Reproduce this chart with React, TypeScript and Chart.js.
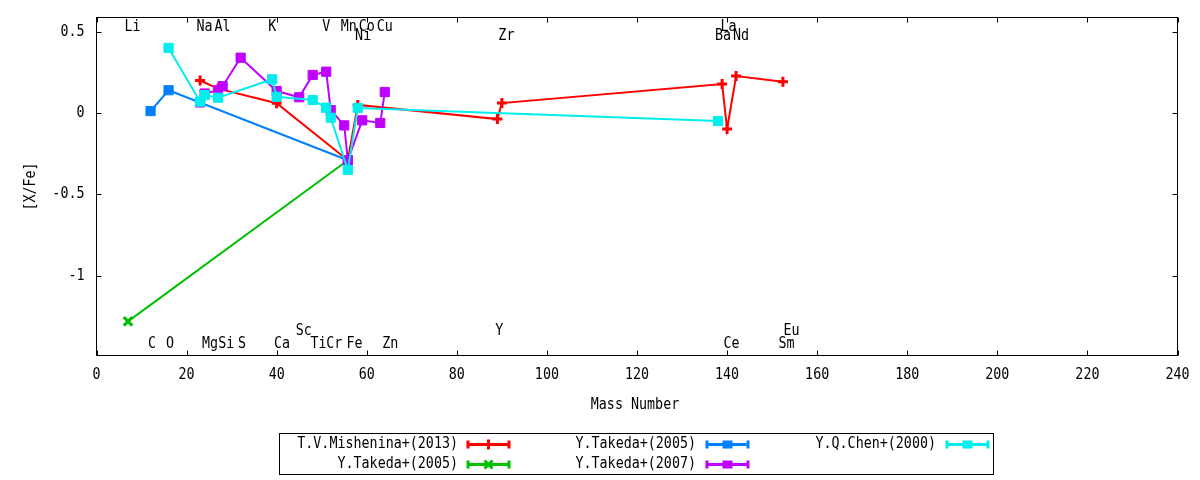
import React, { useEffect, useRef } from "react";
import { Chart, registerables, Plugin } from "chart.js";

Chart.register(...registerables);

// element symbols written on the plot at (mass number, [X/Fe])
const elementNames = ["Li", "Na", "Al", "K", "V", "Mn", "Co", "Cu", "La", "Ni", "Zr", "Ba", "Nd", "Sc", "Y", "Eu", "C", "O", "Mg", "Si", "S", "Ca", "Ti", "Cr", "Fe", "Zn", "Ce", "Sm"];
const elementMass = [8, 24, 28, 39, 51, 56, 60, 64, 140.3, 59.2, 91, 139.1, 143.1, 46, 89.4, 154.3, 12.3, 16.3, 25.2, 28.8, 32.3, 41.2, 49.3, 52.8, 57.3, 65.2, 141, 153.2];
const elementLevel = [0.53, 0.53, 0.53, 0.53, 0.53, 0.53, 0.53, 0.53, 0.53, 0.47, 0.47, 0.47, 0.47, -1.34, -1.34, -1.34, -1.423, -1.423, -1.423, -1.423, -1.423, -1.423, -1.423, -1.423, -1.423, -1.423, -1.423, -1.423];

// T.V.Mishenina+(2013)
const mishMass = [23, 27, 40, 55.8, 58, 89, 90, 138.9, 140, 142, 152.4];
const mishValue = [0.2, 0.15, 0.06, -0.29, 0.05, -0.037, 0.061, 0.178, -0.098, 0.227, 0.192];

// Y.Takeda+(2005) Li
const takedaLiMass = [7, 55.8];
const takedaLiValue = [-1.28, -0.29];

// Y.Takeda+(2005) C, O
const takedaCOMass = [12, 16, 55.8];
const takedaCOValue = [0.012, 0.14, -0.29];

// Y.Takeda+(2007)
const takeda07Mass = [23, 24, 27, 28, 32, 40, 45, 48, 51, 52, 55, 55.8, 59, 63, 64];
const takeda07Value = [0.065, 0.12, 0.14, 0.165, 0.34, 0.135, 0.097, 0.234, 0.254, 0.018, -0.076, -0.29, -0.045, -0.061, 0.129];

// Y.Q.Chen+(2000)
const chenMass = [16, 23, 24, 27, 39, 40, 48, 51, 52, 55.8, 58, 138];
const chenValue = [0.4, 0.07, 0.11, 0.094, 0.207, 0.1, 0.08, 0.033, -0.029, -0.35, 0.031, -0.049];

const xAxisTitle = "Mass Number";
const yAxisTitle = "[X/Fe]";

const FONT = "15px 'DejaVu Sans Mono', monospace";
const SQUEEZE = 0.89; // gnuplot's font is narrower than DejaVu Sans Mono

function toPoints(xs: number[], ys: number[]) {
  return xs.map((x, i) => ({ x, y: ys[i] }));
}

function tickText(v: number) {
  return String(Math.round(v * 10) / 10);
}

// draw squeezed text, (x, y) = anchor point
function text(ctx: CanvasRenderingContext2D, s: string, x: number, y: number, align: CanvasTextAlign, rot = 0) {
  ctx.save();
  ctx.translate(x, y);
  if (rot) ctx.rotate(rot);
  ctx.scale(SQUEEZE, 1);
  ctx.font = FONT;
  ctx.fillStyle = "#000";
  ctx.textAlign = align;
  ctx.textBaseline = "middle";
  ctx.fillText(s, 0, 0);
  ctx.restore();
}

function drawMarker(ctx: CanvasRenderingContext2D, style: string, x: number, y: number, color: string) {
  ctx.save();
  ctx.strokeStyle = color;
  ctx.fillStyle = color;
  ctx.lineWidth = 3;
  ctx.beginPath();
  if (style === "cross") {
    ctx.moveTo(x - 5, y);
    ctx.lineTo(x + 5, y);
    ctx.moveTo(x, y - 5);
    ctx.lineTo(x, y + 5);
    ctx.stroke();
  } else if (style === "crossRot") {
    ctx.moveTo(x - 4, y - 4);
    ctx.lineTo(x + 4, y + 4);
    ctx.moveTo(x + 4, y - 4);
    ctx.lineTo(x - 4, y + 4);
    ctx.stroke();
  } else {
    ctx.fillRect(x - 5, y - 4, 10, 8);
  }
  ctx.restore();
}

// border box, inward ticks on all four sides, tick labels, titles, element names
const framePlugin: Plugin = {
  id: "frame",
  afterDatasetsDraw(chart) {
    const { ctx, chartArea: a, scales } = chart;
    ctx.save();
    ctx.strokeStyle = "#000";
    ctx.lineWidth = 1;
    ctx.strokeRect(a.left, a.top, a.right - a.left, a.bottom - a.top);
    ctx.beginPath();
    scales.x.ticks.forEach((t) => {
      const px = Math.round(scales.x.getPixelForValue(t.value)) + 0.5;
      ctx.moveTo(px, a.bottom);
      ctx.lineTo(px, a.bottom - 5);
      ctx.moveTo(px, a.top);
      ctx.lineTo(px, a.top + 5);
    });
    scales.y.ticks.forEach((t) => {
      const py = Math.round(scales.y.getPixelForValue(t.value)) + 0.5;
      ctx.moveTo(a.left, py);
      ctx.lineTo(a.left + 5, py);
      ctx.moveTo(a.right, py);
      ctx.lineTo(a.right - 5, py);
    });
    ctx.stroke();
    ctx.restore();

    scales.x.ticks.forEach((t) => {
      text(ctx, tickText(t.value), scales.x.getPixelForValue(t.value), a.bottom + 20, "center");
    });
    scales.y.ticks.forEach((t) => {
      text(ctx, tickText(t.value), a.left - 12, scales.y.getPixelForValue(t.value), "right");
    });
    text(ctx, xAxisTitle, (a.left + a.right) / 2 - 2, 405, "center");
    text(ctx, yAxisTitle, 31, (a.top + a.bottom) / 2, "center", -Math.PI / 2);

    elementNames.forEach((name, i) => {
      text(ctx, name, scales.x.getPixelForValue(elementMass[i]), scales.y.getPixelForValue(elementLevel[i]), "center");
    });
  },
};

// gnuplot-like key under the plot, filled column by column
const keyPlugin: Plugin = {
  id: "key",
  afterDraw(chart) {
    const ctx = chart.ctx;
    const textRight = [458, 696, 936];
    const sampleLeft = [467, 706, 946];
    const rowY = [444.5, 464.5];
    ctx.save();
    ctx.strokeStyle = "#000";
    ctx.lineWidth = 1;
    ctx.strokeRect(279.5, 433.5, 714, 41);
    chart.data.datasets.forEach((ds: any, i) => {
      const col = Math.floor(i / 2);
      const y = rowY[i % 2];
      text(ctx, ds.label, textRight[col], y, "right");
      const x0 = sampleLeft[col];
      const x1 = x0 + 43;
      ctx.strokeStyle = ds.borderColor;
      ctx.lineWidth = 3;
      ctx.beginPath();
      ctx.moveTo(x0, y);
      ctx.lineTo(x1, y);
      ctx.moveTo(x0 + 1, y - 4);
      ctx.lineTo(x0 + 1, y + 4);
      ctx.moveTo(x1 - 1, y - 4);
      ctx.lineTo(x1 - 1, y + 4);
      ctx.stroke();
      drawMarker(ctx, ds.pointStyle, (x0 + x1) / 2, y, ds.borderColor);
    });
    ctx.restore();
  },
};

export default function App() {
  const chartRef = useRef<HTMLCanvasElement | null>(null);
  const chartInstanceRef = useRef<Chart | null>(null);

  useEffect(() => {
    document.body.style.margin = "0";
    if (!chartRef.current) return;
    const ctx = chartRef.current.getContext("2d");
    if (!ctx) return;
    if (chartInstanceRef.current) chartInstanceRef.current.destroy();

    const series = (label: string, xs: number[], ys: number[], color: string, style: string, order: number) => ({
      label,
      data: toPoints(xs, ys),
      showLine: true,
      borderColor: color,
      backgroundColor: color,
      borderWidth: 2,
      pointStyle: style,
      pointRadius: style === "rect" ? 6.5 : style === "cross" ? 5 : 6,
      pointBorderWidth: style === "rect" ? 1 : 3,
      pointBackgroundColor: color,
      pointBorderColor: color,
      tension: 0,
      order,
    });

    chartInstanceRef.current = new Chart(ctx, {
      type: "scatter",
      data: {
        datasets: [
          series("T.V.Mishenina+(2013)", mishMass, mishValue, "#ff0000", "cross", 5),
          series("Y.Takeda+(2005)", takedaLiMass, takedaLiValue, "#00c000", "crossRot", 4),
          series("Y.Takeda+(2005)", takedaCOMass, takedaCOValue, "#0080ff", "rect", 3),
          series("Y.Takeda+(2007)", takeda07Mass, takeda07Value, "#c000ff", "rect", 2),
          series("Y.Q.Chen+(2000)", chenMass, chenValue, "#00eeee", "rect", 1),
        ] as any,
      },
      options: {
        animation: false,
        responsive: false,
        devicePixelRatio: 1,
        layout: { padding: { top: 17.5, right: 22.5, left: 0, bottom: 0 } },
        plugins: { legend: { display: false }, tooltip: { enabled: false } },
        scales: {
          x: {
            type: "linear",
            min: 0,
            max: 240,
            ticks: { stepSize: 20, display: false },
            grid: { display: false, drawTicks: false },
            border: { display: false },
            afterFit: (scale: any) => {
              scale.height = 124.5;
            },
          },
          y: {
            type: "linear",
            min: -1.49,
            max: 0.587,
            ticks: { stepSize: 0.5, includeBounds: false, display: false },
            grid: { display: false, drawTicks: false },
            border: { display: false },
            afterFit: (scale: any) => {
              scale.width = 96.5;
            },
          },
        },
      } as any,
      plugins: [framePlugin, keyPlugin],
    });

    return () => {
      if (chartInstanceRef.current) {
        chartInstanceRef.current.destroy();
        chartInstanceRef.current = null;
      }
    };
  }, []);

  return (
    <div style={{ width: 1200, height: 480 }}>
      <canvas ref={chartRef} width={1200} height={480} style={{ width: "1200px", height: "480px" }} />
    </div>
  );
}
